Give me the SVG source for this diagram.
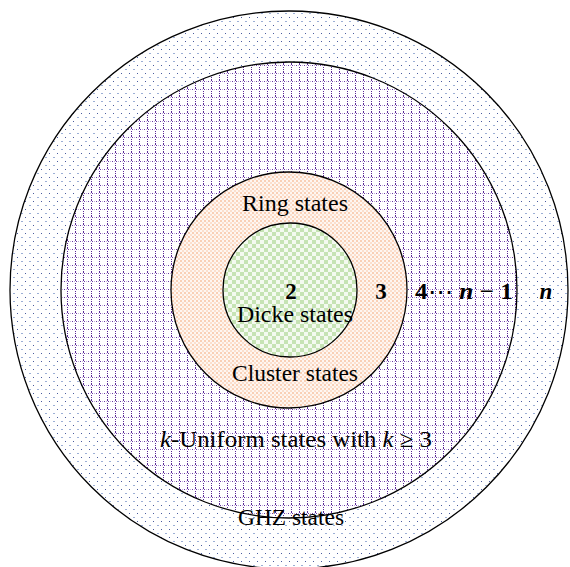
<svg xmlns="http://www.w3.org/2000/svg" width="570" height="567" viewBox="0 0 570 567">
<defs>
<pattern id="pDots" width="8" height="8" patternUnits="userSpaceOnUse">
<rect width="8" height="8" fill="#ffffff"/>
<rect x="1" y="1" width="1" height="1" fill="#4a5c9e"/>
<rect x="5" y="5" width="2" height="1" fill="#9cafd6"/>
</pattern>
<pattern id="pGrid" width="8" height="8" patternUnits="userSpaceOnUse">
<rect width="8" height="8" fill="#ffffff"/>
<rect x="0" y="1" width="1" height="1" fill="#6a3aa6"/>
<rect x="2" y="1" width="1" height="1" fill="#c4b2dc"/>
<rect x="4" y="1" width="1" height="1" fill="#6a3aa6"/>
<rect x="6" y="1" width="1" height="1" fill="#c4b2dc"/>
<rect x="3" y="0" width="1" height="1" fill="#5a2a96"/>
<rect x="3" y="3" width="1" height="1" fill="#5a2a96"/>
<rect x="3" y="5" width="1" height="1" fill="#5a2a96"/>
<rect x="3" y="7" width="1" height="1" fill="#5a2a96"/>
</pattern>
<pattern id="pOrange" width="4" height="4" patternUnits="userSpaceOnUse">
<rect width="4" height="4" fill="#fef6f1"/>
<rect x="0" y="0" width="2" height="2" fill="#f9d0b6"/>
<rect x="2" y="2" width="2" height="2" fill="#fbdfcd"/>
</pattern>
<pattern id="pGreen" width="8" height="8" patternUnits="userSpaceOnUse">
<rect width="8" height="8" fill="#f4faf0"/>
<rect x="0" y="0" width="4" height="4" fill="#c6e3b4"/>
<rect x="4" y="4" width="4" height="4" fill="#c6e3b4"/>
</pattern>
</defs>
<style>
.c{stroke:#000;stroke-width:1.3}
.t{font-family:"Liberation Serif","Times New Roman",serif;font-size:23px;fill:#000;text-anchor:middle}
.b{font-family:"Liberation Serif","DejaVu Serif",serif;font-size:23px;font-weight:bold;fill:#000}
</style>
<rect width="570" height="567" fill="#ffffff"/>
<g id="ghz">
<circle class="c" cx="289" cy="290" r="279" fill="url(#pDots)"/>
</g>
<g id="kuniform">
<circle class="c" cx="289" cy="290" r="228" fill="url(#pGrid)"/>
</g>
<g id="ring">
<circle class="c" cx="289" cy="290" r="118" fill="url(#pOrange)"/>
</g>
<g id="dicke">
<circle class="c" cx="290" cy="290" r="67" fill="url(#pGreen)"/>
</g>
<g id="labels">
<text class="t" x="295" y="211" textLength="106" lengthAdjust="spacingAndGlyphs">Ring states</text>
<text class="t" x="295" y="322" textLength="116" lengthAdjust="spacingAndGlyphs">Dicke states</text>
<text class="t" x="295" y="381" textLength="126" lengthAdjust="spacingAndGlyphs">Cluster states</text>
<text class="t" x="296" y="447" textLength="272" lengthAdjust="spacingAndGlyphs"><tspan font-style="italic">k</tspan>-Uniform states with <tspan font-style="italic">k</tspan> ≥ 3</text>
<text class="t" x="291" y="525" textLength="106" lengthAdjust="spacingAndGlyphs">GHZ states</text>
<text class="b" x="291" y="299" text-anchor="middle">2</text>
<text class="b" x="381" y="299" text-anchor="middle">3</text>
<text class="b" x="415" y="299" textLength="98" lengthAdjust="spacingAndGlyphs">4<tspan font-weight="normal">⋯</tspan> <tspan font-style="italic">n</tspan> − 1</text>
<text class="b" x="546" y="299" text-anchor="middle" font-style="italic">n</text>
</g>
</svg>
